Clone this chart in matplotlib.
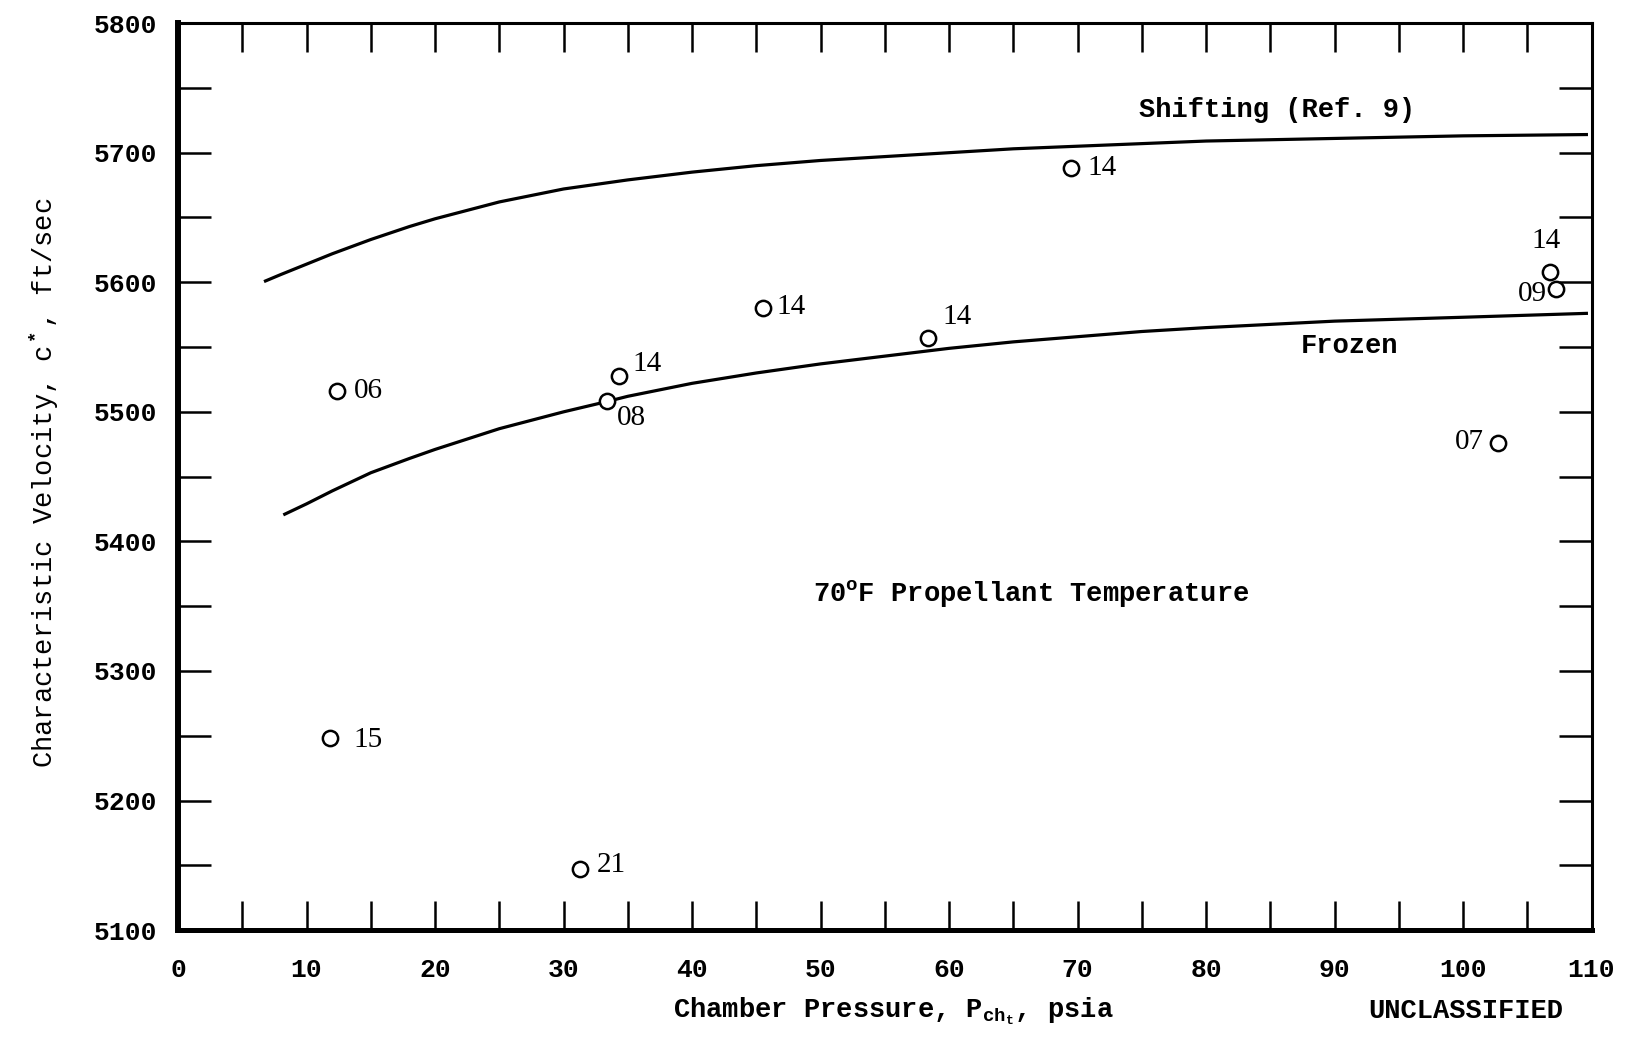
import matplotlib.pyplot as plt

plt.rcParams['font.family'] = ['Liberation Mono', 'DejaVu Sans Mono']
plt.rcParams['mathtext.fontset'] = 'custom'
plt.rcParams['mathtext.rm'] = 'Liberation Mono:bold'
plt.rcParams['mathtext.it'] = 'Liberation Mono:bold'
plt.rcParams['mathtext.bf'] = 'Liberation Mono:bold'

# theoretical curves
shiftX = [6.8, 8, 10, 12, 15, 18, 20, 25, 30, 35, 40, 45, 50, 55, 60, 65, 70, 75, 80, 90, 100, 109.6]
shiftY = [5601, 5606, 5614, 5622, 5633, 5643, 5649, 5662, 5672, 5679, 5685, 5690, 5694, 5697,
          5700, 5703, 5705, 5707, 5709, 5711, 5713, 5714]
frozenX = [8.3, 10, 12, 15, 18, 20, 25, 30, 33.4, 35, 40, 45, 50, 55, 60, 65, 70, 75, 80, 90, 100, 109.6]
frozenY = [5421, 5429, 5439, 5453, 5464, 5471, 5487, 5500, 5508, 5512, 5522, 5530, 5537, 5543,
           5549, 5554, 5558, 5562, 5565, 5570, 5573, 5576]

# test points
pointX = [69.5, 106.8, 107.2, 45.5, 58.4, 34.3, 33.4, 12.4, 102.7, 11.8, 31.3]
pointY = [5688, 5608, 5595, 5580, 5557, 5528, 5508, 5516, 5476, 5248, 5147]
pointLabels = ["14", "14", "09", "14", "14", "14", "08", "06", "07", "15", "21"]
# label offsets in points (dx, dy, ha)
offsets = [(12, 0, "left"), (-3, 22, "center"), (-6, -4, "right"), (10, 1, "left"),
           (10, 15, "left"), (10, 8, "left"), (7, -12, "left"), (12, 0, "left"),
           (-10, 1, "right"), (17, -1, "left"), (12, 3, "left")]

fig = plt.figure(figsize=(16.34, 10.51), dpi=100)
ax = fig.add_axes([0.109, 0.115, 0.865, 0.863])

ax.plot(shiftX, shiftY, color="black", lw=2.3)
ax.plot(frozenX, frozenY, color="black", lw=2.3)
ax.plot(pointX, pointY, "o", mfc="white", mec="black", ms=11, mew=1.8, zorder=3)

for x, y, lab, (dx, dy, ha) in zip(pointX, pointY, pointLabels, offsets):
    ax.annotate(lab, (x, y), xytext=(dx, dy), textcoords="offset points",
                ha=ha, va="center", fontsize=21, family="Liberation Serif")

ax.text(85.5, 5733, "Shifting (Ref. 9)", ha="center", va="center", fontsize=19.5, fontweight="bold")
ax.text(91.2, 5551, "Frozen", ha="center", va="center", fontsize=19.5, fontweight="bold")
ax.text(66.4, 5360, r"70$^\mathrm{o}$F Propellant Temperature", ha="center", va="center",
        fontsize=19.5, fontweight="bold")

ax.set_xlim(0, 110)
ax.set_ylim(5100, 5800)
ax.set_xticks(range(0, 111, 10))
ax.set_xticks(range(5, 110, 5), minor=True)
ax.set_yticks(range(5100, 5801, 100))
ax.set_yticks(range(5150, 5800, 50), minor=True)

ax.tick_params(which="both", direction="in", width=1.8, top=True, right=True, labelsize=19)
ax.tick_params(axis="x", which="both", length=21, pad=20)
ax.tick_params(axis="y", which="both", length=24, pad=15)
for lab in ax.get_xticklabels() + ax.get_yticklabels():
    lab.set_fontweight("bold")

ax.spines["left"].set_linewidth(4.3)
ax.spines["bottom"].set_linewidth(3.6)
ax.spines["top"].set_linewidth(2.2)
ax.spines["right"].set_linewidth(2.2)

fig.text(0.027, 0.541, r"Characteristic Velocity, c$^*$, ft/sec", rotation=90, ha="center",
         va="center", fontsize=19.5)
fig.text(0.547, 0.038, r"Chamber Pressure, P$_{\mathrm{ch}_\mathrm{t}}$, psia", ha="center",
         va="center", fontsize=19.5, fontweight="bold")
fig.text(0.897, 0.038, "UNCLASSIFIED", ha="center", va="center", fontsize=19.5, fontweight="bold")

fig.savefig("out.png", dpi=100)
